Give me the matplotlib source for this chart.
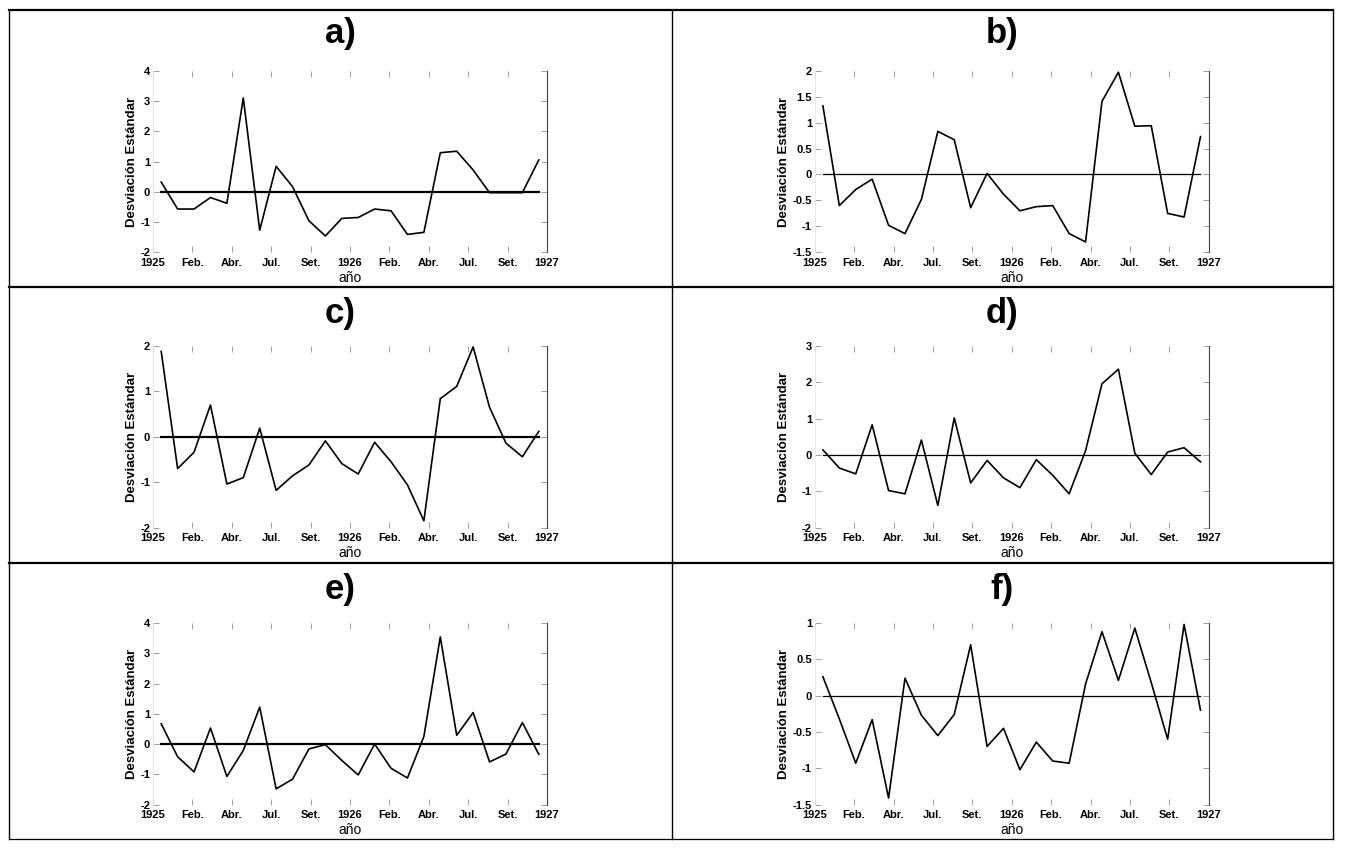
import numpy as np
import matplotlib
matplotlib.use("Agg")
import matplotlib.pyplot as plt
from matplotlib.lines import Line2D

plt.rcParams["font.family"] = ["Liberation Sans", "DejaVu Sans"]
plt.rcParams["axes.unicode_minus"] = False

# monthly standard deviation series, jan 1925 .. dec 1926
a_vals = [0.32, -0.57, -0.57, -0.19, -0.38, 3.10, -1.27, 0.84, 0.17, -0.96, -1.46, -0.88,
          -0.85, -0.57, -0.63, -1.41, -1.34, 1.29, 1.34, 0.72, -0.03, -0.03, -0.03, 1.05]
b_vals = [1.32, -0.60, -0.29, -0.09, -0.98, -1.14, -0.48, 0.83, 0.67, -0.64, 0.02, -0.38,
          -0.70, -0.62, -0.60, -1.14, -1.30, 1.41, 1.97, 0.93, 0.94, -0.75, -0.82, 0.73]
c_vals = [1.88, -0.70, -0.34, 0.70, -1.04, -0.90, 0.19, -1.18, -0.86, -0.62, -0.09, -0.59,
          -0.82, -0.12, -0.55, -1.06, -1.85, 0.84, 1.11, 1.98, 0.65, -0.14, -0.44, 0.12]
d_vals = [0.14, -0.36, -0.52, 0.83, -0.98, -1.07, 0.41, -1.39, 1.02, -0.77, -0.15, -0.63,
          -0.90, -0.13, -0.56, -1.07, 0.12, 1.96, 2.36, 0.05, -0.54, 0.08, 0.20, -0.19]
e_vals = [0.67, -0.42, -0.92, 0.53, -1.07, -0.21, 1.22, -1.48, -1.16, -0.16, -0.02, -0.54,
          -1.02, 0.00, -0.80, -1.12, 0.25, 3.54, 0.29, 1.04, -0.59, -0.33, 0.71, -0.34]
f_vals = [0.26, -0.32, -0.93, -0.33, -1.41, 0.24, -0.27, -0.55, -0.26, 0.70, -0.70, -0.45,
          -1.02, -0.64, -0.90, -0.93, 0.16, 0.88, 0.21, 0.93, 0.18, -0.60, 0.98, -0.20]

tick_labels = ["1925", "Feb.", "Abr.", "Jul.", "Set.", "1926", "Feb.", "Abr.", "Jul.", "Set.", "1927"]
panel_names = ["a)", "b)", "c)", "d)", "e)", "f)"]
series = [a_vals, b_vals, c_vals, d_vals, e_vals, f_vals]
yticks = [np.arange(-2, 4.1, 1), np.arange(-1.5, 2.1, 0.5), np.arange(-2, 2.1, 1),
          np.arange(-2, 3.1, 1), np.arange(-2, 4.1, 1), np.arange(-1.5, 1.1, 0.5)]
zero_lw = [1.6, 0.9, 1.6, 0.9, 1.6, 0.9]

W, H = 1345, 850
fig = plt.figure(figsize=(W / 100, H / 100), dpi=100)

def fx(px):
    return px / W

def fy(py):
    return 1 - py / H

# table borders (pixel coords, origin top-left)
cols = [9, 671.5, 1333]
rows = [10, 287, 563, 839]
for y, lw in zip(rows, [1.6, 1.6, 1.6, 0.9]):
    fig.add_artist(Line2D([fx(cols[0]), fx(cols[2])], [fy(y), fy(y)], color="black", lw=lw))
for x in cols:
    fig.add_artist(Line2D([fx(x), fx(x)], [fy(rows[0]), fy(rows[3])], color="black", lw=1.0))

ax_left = [153, 814.7]
ylab_x = [-0.053, -0.079]
ax_top = [70.7, 346, 623]
ax_w = 394
ax_h = 181.6
title_y = [33, 313, 590]

months = np.arange(24) + 0.5

for i in range(6):
    r, c = i // 2, i % 2
    ax = fig.add_axes([fx(ax_left[c]), fy(ax_top[r] + ax_h), ax_w / W, ax_h / H])
    vals = series[i]
    ax.plot(months, np.zeros(24), color="black", lw=zero_lw[i])
    ax.plot(months, vals, color="black", lw=1.2)
    ax.set_xlim(0, 24)
    ax.set_ylim(yticks[i][0], yticks[i][-1])
    ax.set_xticks(np.linspace(0, 24, 11))
    ax.set_xticklabels(tick_labels)
    ax.set_yticks(yticks[i])
    ax.set_yticklabels(["%g" % v for v in yticks[i]])
    for lab in ax.get_xticklabels() + ax.get_yticklabels():
        lab.set_fontweight("bold")
    ax.tick_params(direction="in", length=4, width=0.7, color="#a0a0a0",
                   labelsize=8, top=True, right=True, pad=2)
    ax.tick_params(axis="x", pad=4)
    for s in ["top", "bottom"]:
        ax.spines[s].set_visible(False)
    ax.spines["left"].set_color("#e6e6e6")
    ax.spines["left"].set_linewidth(0.6)
    ax.spines["right"].set_color("#404040")
    ax.spines["right"].set_linewidth(0.8)
    ax.set_ylabel("Desviación Estándar", fontsize=9.5, fontweight="bold")
    ax.yaxis.label.set_va("center")
    ax.yaxis.set_label_coords(ylab_x[c], 0.5)
    ax.set_xlabel("año", fontsize=10)
    ax.xaxis.label.set_va("center")
    ax.xaxis.set_label_coords(0.5, -0.141)
    cx = (cols[c] + cols[c + 1]) / 2
    fig.text(fx(cx), fy(title_y[r]), panel_names[i], fontsize=25, fontweight="bold",
             ha="center", va="center")

fig.savefig("out.png", dpi=100)
